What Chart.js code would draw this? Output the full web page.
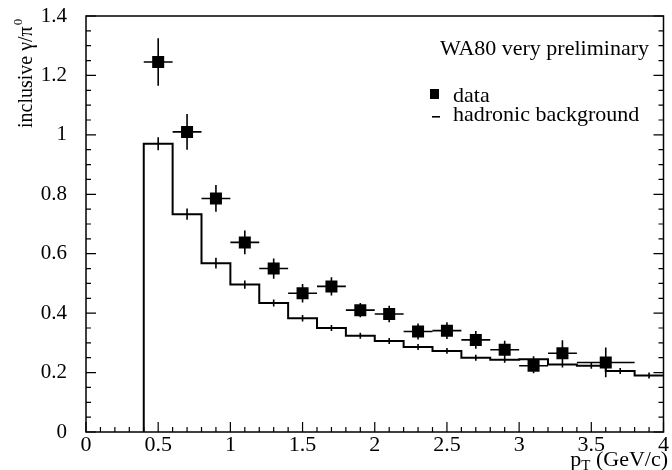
<!DOCTYPE html>
<html>
<head>
<meta charset="utf-8">
<script src="https://cdn.jsdelivr.net/npm/chart.js@4.4.0/dist/chart.umd.min.js"></script>
<style>
  body { margin: 0; background: #fff; }
</style>
</head>
<body>
<canvas id="chartGamma" width="672" height="470"></canvas>
<script>
// WA80 data points: inclusive gamma / pi0 vs pT
const ptData = [0.5, 0.7, 0.9, 1.1, 1.3, 1.5, 1.7, 1.9, 2.1, 2.3, 2.5, 2.7, 2.9, 3.1, 3.3, 3.6];
const ratioData = [1.245, 1.01, 0.786, 0.638, 0.55, 0.467, 0.49, 0.41, 0.397, 0.338, 0.341, 0.31, 0.277, 0.223, 0.265, 0.234];
const ratioErr = [0.08, 0.06, 0.045, 0.04, 0.034, 0.031, 0.031, 0.024, 0.028, 0.027, 0.028, 0.03, 0.03, 0.025, 0.044, 0.05];
const ptHalfWidth = [0.1, 0.1, 0.1, 0.1, 0.1, 0.1, 0.1, 0.1, 0.1, 0.1, 0.1, 0.1, 0.1, 0.1, 0.1, 0.2];

// hadronic background histogram (bin edges + contents)
const bgEdges = [0.4, 0.6, 0.8, 1.0, 1.2, 1.4, 1.6, 1.8, 2.0, 2.2, 2.4, 2.6, 2.8, 3.0, 3.2, 3.4, 3.6, 3.8, 4.0];
const bgValues = [0.97, 0.733, 0.568, 0.496, 0.434, 0.383, 0.35, 0.324, 0.306, 0.286, 0.273, 0.25, 0.243, 0.245, 0.227, 0.223, 0.205, 0.19];
const bgErr = [0.022, 0.019, 0.018, 0.014, 0.012, 0.011, 0.01, 0.01, 0.01, 0.01, 0.01, 0.01, 0.01, 0.01, 0.01, 0.01, 0.01, 0.01];

// axis tick labels
const xTickValues = [0, 0.5, 1, 1.5, 2, 2.5, 3, 3.5, 4];
const yTickValues = [0, 0.2, 0.4, 0.6, 0.8, 1, 1.2, 1.4];

const FONT = "'Liberation Serif', 'Times New Roman', serif";
Chart.defaults.font.family = FONT;
Chart.defaults.color = "#000";

// histogram outline: start from zero at first edge, then step through bins
const bgLine = [{ x: bgEdges[0], y: 0 }];
bgValues.forEach((v, i) => bgLine.push({ x: bgEdges[i], y: v }));
bgLine.push({ x: bgEdges[bgEdges.length - 1], y: bgValues[bgValues.length - 1] });

const points = ptData.map((x, i) => ({ x: x, y: ratioData[i] }));

// error bars, frame, inward ticks, legend and axis titles
const physPlot = {
  id: "physPlot",
  beforeDatasetsDraw(chart) {
    const ctx = chart.ctx;
    const xs = chart.scales.x;
    const ys = chart.scales.y;
    ctx.save();
    ctx.strokeStyle = "#000";
    ctx.lineWidth = 1.6;
    ctx.beginPath();
    // data error bars
    ptData.forEach((x, i) => {
      const px = xs.getPixelForValue(x);
      const py = ys.getPixelForValue(ratioData[i]);
      ctx.moveTo(px, ys.getPixelForValue(ratioData[i] - ratioErr[i]));
      ctx.lineTo(px, ys.getPixelForValue(ratioData[i] + ratioErr[i]));
      ctx.moveTo(xs.getPixelForValue(x - ptHalfWidth[i]), py);
      ctx.lineTo(xs.getPixelForValue(x + ptHalfWidth[i]), py);
    });
    // background error ticks at bin centres
    bgValues.forEach((v, i) => {
      const px = xs.getPixelForValue((bgEdges[i] + bgEdges[i + 1]) / 2);
      ctx.moveTo(px, ys.getPixelForValue(v - bgErr[i]));
      ctx.lineTo(px, ys.getPixelForValue(v + bgErr[i]));
    });
    ctx.stroke();
    ctx.restore();
  },
  afterDraw(chart) {
    const ctx = chart.ctx;
    const a = chart.chartArea;
    const xs = chart.scales.x;
    const ys = chart.scales.y;
    ctx.save();
    ctx.strokeStyle = "#000";
    ctx.fillStyle = "#000";
    ctx.lineWidth = 1.5;
    ctx.strokeRect(a.left, a.top, a.right - a.left, a.bottom - a.top);

    // inward ticks
    ctx.lineWidth = 1.2;
    ctx.beginPath();
    for (let i = 0; i <= 40; i++) {
      const px = xs.getPixelForValue(i / 10);
      const len = i % 5 === 0 ? 10 : 5;
      ctx.moveTo(px, a.bottom);
      ctx.lineTo(px, a.bottom - len);
    }
    for (let i = 0; i <= 28; i++) {
      const py = ys.getPixelForValue(i * 0.05);
      const len = i % 4 === 0 ? 10 : 5;
      ctx.moveTo(a.left, py);
      ctx.lineTo(a.left + len, py);
      ctx.moveTo(a.right, py);
      ctx.lineTo(a.right - len, py);
    }
    ctx.stroke();

    // legend text
    ctx.textBaseline = "alphabetic";
    ctx.font = "22px " + FONT;
    ctx.textAlign = "right";
    ctx.fillText("WA80 very preliminary", 649, 55);
    ctx.textAlign = "left";
    ctx.fillText("data", 453, 102);
    ctx.fillText("hadronic background", 453, 121);
    ctx.fillRect(430, 89, 9, 10);
    ctx.fillRect(432, 116, 8, 1.6);

    // y title: inclusive gamma/pi0
    ctx.save();
    ctx.translate(32, 128);
    ctx.rotate(-Math.PI / 2);
    ctx.font = "20px " + FONT;
    const yTitle = "inclusive \u03b3/\u03c0";
    ctx.fillText(yTitle, 0, 0);
    const w = ctx.measureText(yTitle).width;
    ctx.font = "13px " + FONT;
    ctx.fillText("0", w + 1, -10);
    ctx.restore();

    // x title: pT (GeV/c)
    ctx.font = "22px " + FONT;
    const wp = ctx.measureText("p").width;
    const rest = " (GeV/c)";
    const wr = ctx.measureText(rest).width;
    ctx.font = "15px " + FONT;
    const wt = ctx.measureText("T").width;
    const x0 = 668 - wp - wt - wr;
    ctx.font = "22px " + FONT;
    ctx.fillText("p", x0, 466);
    ctx.fillText(rest, x0 + wp + wt, 466);
    ctx.font = "15px " + FONT;
    ctx.fillText("T", x0 + wp, 470);
    ctx.restore();
  }
};

new Chart(document.getElementById("chartGamma"), {
  type: "scatter",
  data: {
    datasets: [
      {
        label: "data",
        data: points,
        pointStyle: "rect",
        pointRadius: 8.5,
        backgroundColor: "#000",
        borderColor: "#000",
        borderWidth: 0,
        showLine: false
      },
      {
        type: "line",
        label: "hadronic background",
        data: bgLine,
        stepped: true,
        borderColor: "#000",
        borderWidth: 2,
        pointRadius: 0,
        fill: false
      }
    ]
  },
  options: {
    responsive: false,
    animation: false,
    layout: { padding: { top: 16, right: 3, left: 0, bottom: 0 } },
    plugins: {
      legend: { display: false },
      tooltip: { enabled: false }
    },
    scales: {
      x: {
        type: "linear",
        min: 0,
        max: 4,
        grid: { display: false },
        border: { display: false },
        afterBuildTicks: (s) => { s.ticks = xTickValues.map((v) => ({ value: v })); },
        afterFit: (s) => {
          s.height = 38;
          s.paddingLeft = 0;
          s.paddingRight = 0;
        },
        ticks: {
          font: { size: 22 },
          padding: -8,
          maxRotation: 0,
          autoSkip: false,
          callback: (v) => String(v)
        }
      },
      y: {
        min: 0,
        max: 1.4,
        grid: { display: false },
        border: { display: false },
        afterBuildTicks: (s) => { s.ticks = yTickValues.map((v) => ({ value: v })); },
        afterFit: (s) => {
          s.width = 86;
          s.paddingTop = 0;
          s.paddingBottom = 0;
        },
        ticks: {
          font: { size: 21 },
          padding: 11,
          autoSkip: false,
          callback: (v) => String(v)
        }
      }
    }
  },
  plugins: [physPlot]
});
</script>
</body>
</html>
